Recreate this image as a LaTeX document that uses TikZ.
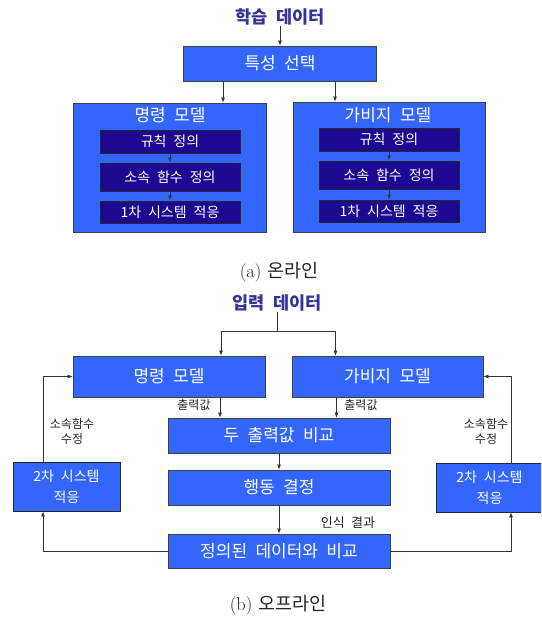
\documentclass[tikz,border=0pt]{standalone}
\usepackage{fontspec}
\newfontfamily\kr[WordSpace=2.2]{Noto Sans CJK KR}
\usetikzlibrary{arrows.meta}
\definecolor{boxblue}{RGB}{51,102,255}
\definecolor{innernavy}{RGB}{28,8,145}
\definecolor{titleblue}{RGB}{51,51,153}
\tikzset{
  bluebox/.style={draw=black!75, fill=boxblue, line width=0.8pt, text=white, inner sep=0pt, font=\kr\fontsize{17}{20}\selectfont},
  navybox/.style={draw=black!85, fill=innernavy, line width=0.8pt, text=white, minimum width=140pt, inner sep=0pt, font=\kr\fontsize{14}{17}\selectfont},
  sidebox/.style={draw=black!85, fill=boxblue, line width=0.8pt, text=white, inner sep=0pt, align=center, font=\kr\fontsize{14}{21}\selectfont},
  ttl/.style={text=titleblue, font=\kr\bfseries\fontsize{17.5}{20}\selectfont, inner sep=1pt},
  lbl/.style={text=black!85, font=\kr\fontsize{12}{15}\selectfont, inner sep=0pt, align=center},
  captxt/.style={text=black!85, font=\fontsize{18.5}{21}\selectfont, inner sep=0pt},
  arr/.style={draw=black!80, line width=0.7pt, -{Latex[length=5pt,width=4pt]}},
  ln/.style={draw=black!80, line width=0.7pt}
}
\begin{document}
\begin{tikzpicture}[x=1pt,y=-1pt]
\useasboundingbox (0,0) rectangle (541,623);
\fill[white] (0,0) rectangle (541,623);
\clip (0,0) rectangle (541,623);
% ---------- (a) online ----------
\node[ttl] (t1) at (280,17) {학습 데이터};
\node[bluebox, minimum width=193pt, minimum height=35pt] (feat) at (280,63.5) {특성 선택};
\draw[arr] (t1.south) -- (t1.south |- feat.north);
\node[bluebox, minimum width=193pt, minimum height=129pt] (ma) at (169.5,167.5) {};
\node[bluebox, minimum width=192pt, minimum height=130pt] (mb) at (389,167) {};
\draw[arr] ([xshift=-57pt]feat.south) -- ([xshift=-57pt]feat.south |- ma.north);
\draw[arr] ([xshift=55pt]feat.south) -- ([xshift=55pt]feat.south |- mb.north);
\node[text=white, font=\kr\fontsize{17}{20}\selectfont, inner sep=0pt] (mat) at (170,115) {명령 모델};
\node[text=white, font=\kr\fontsize{17}{20}\selectfont, inner sep=0pt] (mbt) at (388,115) {가비지 모델};
\node[navybox, minimum height=23pt] (a1) at (170,141.5) {규칙 정의};
\node[navybox, minimum height=28pt] (a2) at (170,177) {소속 함수 정의};
\node[navybox, minimum height=22pt] (a3) at (170,212) {1차 시스템 적응};
\node[navybox, minimum height=23pt] (b1) at (389,139.5) {규칙 정의};
\node[navybox, minimum height=28pt] (b2) at (389,175) {소속 함수 정의};
\node[navybox, minimum height=22pt] (b3) at (389,211) {1차 시스템 적응};
\draw[arr] (a1) -- (a2);
\draw[arr] (a2) -- (a3);
\draw[arr] (b1) -- (b2);
\draw[arr] (b2) -- (b3);
\node[captxt] (capa) at (279,272) {(a) {\kr 온라인}};
% ---------- (b) offline ----------
\node[ttl] (t2) at (277,303) {입력 데이터};
\coordinate (sp) at (277,331);
\node[bluebox, minimum width=192pt, minimum height=41pt] (oa) at (169,376.5) {명령 모델};
\node[bluebox, minimum width=191pt, minimum height=41pt] (ob) at (387.5,376.5) {가비지 모델};
\draw[ln] (t2.south) -- (sp);
\draw[arr] (sp) -| ([xshift=52pt]oa.north);
\draw[arr] (sp) -| ([xshift=-52pt]ob.north);
\node[bluebox, minimum width=222pt, minimum height=35pt] (cmp) at (279,435.5) {두 출력값 비교};
\node[bluebox, minimum width=222pt, minimum height=35pt] (act) at (279,487.5) {행동 결정};
\node[bluebox, minimum width=222pt, minimum height=34pt] (def) at (279,551) {정의된 데이터와 비교};
\draw[arr] ([xshift=51pt]oa.south) -- ([xshift=51pt]oa.south |- cmp.north);
\draw[arr] ([xshift=-51pt]ob.south) -- ([xshift=-51pt]ob.south |- cmp.north);
\draw[arr] (cmp) -- (act);
\draw[arr] (act) -- (def);
\node[lbl] (o1) at (194,405) {출력값};
\node[lbl] (o2) at (361,405) {출력값};
\node[lbl, font=\kr\fontsize{13}{15}\selectfont] (rec) at (348,523) {인식 결과};
\node[sidebox, minimum width=107pt, minimum height=49pt] (l2) at (66.5,486.5) {2차 시스템\\적응};
\node[sidebox, minimum width=107pt, minimum height=49pt] (r2) at (489.5,487.5) {2차 시스템\\적응};
\draw[arr] ([xshift=-23.5pt]l2.north) |- (oa.west);
\draw[arr] ([xshift=21.5pt]r2.north) |- (ob.east);
\draw[arr] (def.west) -| ([xshift=-23.5pt]l2.south);
\draw[arr] (def.east) -| ([xshift=21.5pt]r2.south);
\node[lbl, font=\kr\fontsize{12}{15}\selectfont] (fl) at (72,431.5) {소속함수\\수정};
\node[lbl, font=\kr\fontsize{12}{15}\selectfont] (fr) at (486,431.5) {소속함수\\수정};
\node[captxt] (capb) at (278,605) {(b) {\kr 오프라인}};
\end{tikzpicture}
\end{document}
